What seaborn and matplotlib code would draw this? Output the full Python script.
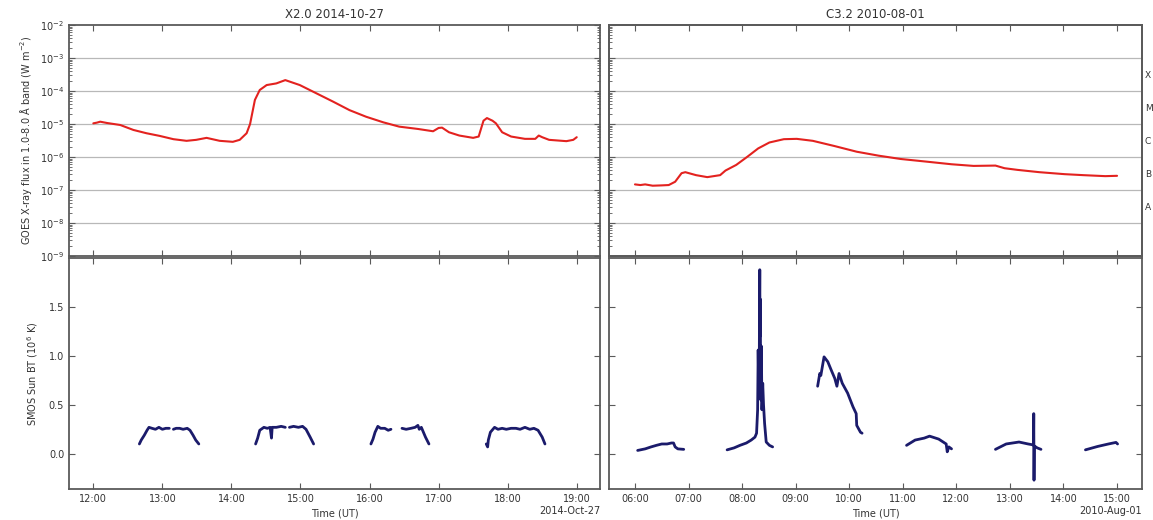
import numpy as np
import pandas as pd
import matplotlib
matplotlib.use("Agg")
import matplotlib.pyplot as plt
import seaborn as sns
from matplotlib.ticker import FixedLocator, FuncFormatter, LogLocator, NullLocator, NullFormatter

# ---------------- data ----------------
titles = ["X2.0 2014-10-27", "C3.2 2010-08-01"]
date_labels = ["2014-Oct-27", "2010-Aug-01"]
hour_ticks_left = list(range(12, 20))
hour_ticks_right = list(range(6, 16))
goes_classes = ["A", "B", "C", "M", "X"]
goes_class_exp = [-7.5, -6.5, -5.5, -4.5, -3.5]

# GOES 1-8 A flux, log10(W m^-2), event of 2014-10-27
goes_oct_t = [12.00, 12.05, 12.10, 12.20, 12.39, 12.58, 12.77, 12.96, 13.16, 13.35, 13.49, 13.64,
              13.83, 14.02, 14.12, 14.22, 14.27, 14.34, 14.41, 14.51, 14.65, 14.78, 14.99, 15.23,
              15.47, 15.71, 15.95, 16.20, 16.43, 16.70, 16.92, 17.00, 17.05, 17.15, 17.30, 17.50,
              17.58, 17.65, 17.70, 17.78, 17.83, 17.92, 18.05, 18.25, 18.40, 18.45, 18.50, 18.60,
              18.85, 18.95, 19.00]
goes_oct_log = [-4.98, -4.96, -4.93, -4.97, -5.03, -5.18, -5.28, -5.36, -5.46, -5.51, -5.48, -5.42,
                -5.51, -5.54, -5.48, -5.28, -5.00, -4.27, -3.97, -3.82, -3.77, -3.67, -3.82, -4.07,
                -4.32, -4.58, -4.78, -4.95, -5.08, -5.15, -5.22, -5.12, -5.11, -5.25, -5.35, -5.42,
                -5.38, -4.90, -4.82, -4.90, -4.98, -5.25, -5.38, -5.45, -5.45, -5.35, -5.40, -5.48,
                -5.52, -5.48, -5.40]

# GOES 1-8 A flux, log10(W m^-2), event of 2010-08-01
goes_aug_t = [6.00, 6.10, 6.19, 6.33, 6.50, 6.63, 6.75, 6.87, 6.94, 7.14, 7.35, 7.59, 7.69, 7.89,
              8.10, 8.30, 8.51, 8.78, 9.02, 9.32, 9.73, 10.14, 10.55, 10.96, 11.44, 11.91, 12.32,
              12.73, 12.90, 13.14, 13.55, 14.02, 14.37, 14.78, 15.00]
goes_aug_log = [-6.83, -6.85, -6.83, -6.87, -6.86, -6.85, -6.75, -6.49, -6.46, -6.55, -6.61, -6.55,
                -6.41, -6.24, -5.99, -5.74, -5.56, -5.46, -5.45, -5.51, -5.67, -5.84, -5.96, -6.06,
                -6.14, -6.22, -6.27, -6.26, -6.34, -6.39, -6.46, -6.52, -6.55, -6.58, -6.57]

# SMOS Sun brightness temperature (10^6 K), 2014-10-27, one list per visibility pass
smos_oct_t = [
    [12.667, 12.694, 12.739, 12.778, 12.806, 12.85, 12.90, 12.95, 13.00, 13.05, 13.10],
    [13.16, 13.20, 13.25, 13.30, 13.36, 13.40, 13.444, 13.483, 13.528],
    [14.35, 14.38, 14.41, 14.47, 14.52, 14.56, 14.58, 14.59, 14.65, 14.72, 14.78],
    [14.84, 14.90, 14.97, 15.03, 15.08, 15.14, 15.19],
    [16.02, 16.05, 16.08, 16.12, 16.16, 16.22, 16.27, 16.31],
    [16.47, 16.53, 16.60, 16.66, 16.70, 16.72, 16.75, 16.78, 16.81, 16.86],
    [17.69, 17.71, 17.72, 17.75, 17.81, 17.86, 17.92, 17.98, 18.05, 18.12, 18.18, 18.25, 18.32,
     18.38, 18.44, 18.50, 18.54],
]
smos_oct_v = [
    [0.10, 0.14, 0.19, 0.24, 0.27, 0.26, 0.25, 0.27, 0.25, 0.26, 0.26],
    [0.25, 0.26, 0.26, 0.25, 0.26, 0.24, 0.19, 0.14, 0.10],
    [0.10, 0.16, 0.24, 0.27, 0.26, 0.27, 0.16, 0.27, 0.27, 0.28, 0.27],
    [0.27, 0.28, 0.27, 0.28, 0.25, 0.17, 0.10],
    [0.10, 0.15, 0.22, 0.28, 0.26, 0.26, 0.24, 0.25],
    [0.26, 0.25, 0.26, 0.27, 0.29, 0.25, 0.27, 0.22, 0.17, 0.10],
    [0.10, 0.07, 0.14, 0.22, 0.27, 0.25, 0.26, 0.25, 0.26, 0.26, 0.25, 0.27, 0.25, 0.26, 0.24,
     0.17, 0.10],
]

# SMOS Sun brightness temperature (10^6 K), 2010-08-01
smos_aug_t = [
    [6.05, 6.19, 6.30, 6.40, 6.50, 6.60, 6.68, 6.72, 6.75, 6.80, 6.91],
    [7.72, 7.85, 7.96, 8.08, 8.17, 8.24, 8.27, 8.29, 8.30, 8.31, 8.32, 8.325, 8.33, 8.335, 8.34,
     8.345, 8.35, 8.36, 8.37, 8.385, 8.40, 8.42, 8.45, 8.51, 8.57],
    [9.41, 9.45, 9.47, 9.53, 9.60, 9.66, 9.73, 9.77, 9.81, 9.87, 9.97, 10.07, 10.13, 10.14,
     10.21, 10.24],
    [11.07, 11.23, 11.40, 11.50, 11.67, 11.81, 11.83, 11.86, 11.91],
    [12.73, 12.93, 13.17, 13.34, 13.44, 13.445, 13.45, 13.455, 13.51, 13.58],
    [14.41, 14.64, 14.84, 14.98, 15.01],
]
smos_aug_v = [
    [0.034, 0.05, 0.07, 0.086, 0.10, 0.10, 0.11, 0.11, 0.07, 0.05, 0.045],
    [0.04, 0.06, 0.086, 0.11, 0.14, 0.17, 0.21, 0.45, 1.06, 0.70, 0.82, 1.50, 1.88, 1.20, 1.58,
     0.80, 0.55, 1.10, 0.45, 0.72, 0.50, 0.31, 0.12, 0.086, 0.07],
    [0.69, 0.82, 0.80, 0.99, 0.94, 0.86, 0.77, 0.69, 0.82, 0.72, 0.62, 0.48, 0.41, 0.29, 0.22,
     0.21],
    [0.086, 0.14, 0.16, 0.18, 0.15, 0.10, 0.02, 0.07, 0.05],
    [0.045, 0.10, 0.12, 0.10, 0.09, 0.41, -0.27, 0.08, 0.06, 0.045],
    [0.04, 0.075, 0.10, 0.116, 0.10],
]

# ---------------- tables ----------------
def goes_frame(t, lg):
    return pd.DataFrame({"t": t, "flux": 10.0 ** np.asarray(lg)})

def smos_frame(ts, vs):
    rows = []
    for i, (t, v) in enumerate(zip(ts, vs)):
        for a, b in zip(t, v):
            rows.append((i, a, b))
    return pd.DataFrame(rows, columns=["seg", "t", "bt"])

df_goes = [goes_frame(goes_oct_t, goes_oct_log), goes_frame(goes_aug_t, goes_aug_log)]
df_smos = [smos_frame(smos_oct_t, smos_oct_v), smos_frame(smos_aug_t, smos_aug_v)]

# ---------------- style ----------------
sns.set_theme(style="white")
plt.rcParams.update({
    "font.family": ["DejaVu Sans"],
    "font.size": 7,
    "axes.edgecolor": "#5a5a5a",
    "axes.linewidth": 1.3,
    "xtick.direction": "in",
    "ytick.direction": "in",
    "xtick.top": True,
    "xtick.bottom": True,
    "ytick.left": True,
    "ytick.right": True,
    "xtick.color": "#5a5a5a",
    "ytick.color": "#5a5a5a",
    "xtick.labelcolor": "#333333",
    "ytick.labelcolor": "#333333",
    "xtick.labelsize": 7,
    "ytick.labelsize": 7,
    "xtick.major.size": 4,
    "ytick.major.size": 4,
    "xtick.minor.size": 2,
    "ytick.minor.size": 2,
    "xtick.major.width": 0.8,
    "ytick.major.width": 0.8,
    "ytick.minor.width": 0.6,
    "axes.labelcolor": "#333333",
    "axes.labelsize": 7,
})

W, H = 1153, 520
fig = plt.figure(figsize=(W / 100, H / 100), dpi=100)

def rect(x0, y0, x1, y1):
    return [x0 / W, 1 - y1 / H, (x1 - x0) / W, (y1 - y0) / H]

cols = [(69, 600), (609, 1142)]
xlims = [(11.648, 19.337), (5.515, 15.466)]
hticks = [hour_ticks_left, hour_ticks_right]
red = "#e3221f"
navy = "#1b1b6b"
hfmt = FuncFormatter(lambda v, _: f"{int(round(v)):02d}:00")

for j, (x0, x1) in enumerate(cols):
    ax_t = fig.add_axes(rect(x0, 25, x1, 256))
    ax_b = fig.add_axes(rect(x0, 258, x1, 489))

    # ---- GOES panel ----
    sns.lineplot(data=df_goes[j], x="t", y="flux", ax=ax_t, color=red, lw=1.5, legend=False)
    ax_t.set_yscale("log")
    ax_t.set_ylim(1e-9, 1e-2)
    ax_t.set_xlim(*xlims[j])
    ax_t.yaxis.set_major_locator(LogLocator(base=10, numticks=20))
    ax_t.yaxis.set_minor_locator(LogLocator(base=10, subs=np.arange(2, 10), numticks=20))
    ax_t.yaxis.set_minor_formatter(NullFormatter())
    for e in range(-8, -2):
        ax_t.axhline(10.0 ** e, color="#b8b8b8", lw=0.9, zorder=0)
    ax_t.xaxis.set_major_locator(FixedLocator(hticks[j]))
    ax_t.tick_params(axis="x", labelbottom=False)
    ax_t.set_xlabel("")
    ax_t.set_title(titles[j], fontsize=8.5, color="#333333", pad=5)
    if j == 0:
        ax_t.set_ylabel("GOES X-ray flux in 1.0-8.0 Å band (W m$^{-2}$)", labelpad=4)
    else:
        ax_t.set_ylabel("")
        ax_t.tick_params(axis="y", labelleft=False)
        ax2 = ax_t.twinx()
        ax2.set_yscale("log")
        ax2.set_ylim(1e-9, 1e-2)
        ax2.yaxis.set_major_locator(FixedLocator([10.0 ** e for e in goes_class_exp]))
        ax2.set_yticklabels(goes_classes)
        ax2.yaxis.set_minor_locator(NullLocator())
        ax2.tick_params(axis="y", length=0, pad=2, labelsize=6.5)
        ax2.tick_params(axis="x", which="both", top=False, bottom=False)
        ax2.grid(False)

    # ---- SMOS panel ----
    sns.lineplot(data=df_smos[j], x="t", y="bt", units="seg", estimator=None, ax=ax_b,
                 color=navy, lw=2.0, legend=False)
    ax_b.set_xlim(*xlims[j])
    ax_b.set_ylim(-0.36, 2.0)
    ax_b.yaxis.set_major_locator(FixedLocator([0.0, 0.5, 1.0, 1.5]))
    ax_b.xaxis.set_major_locator(FixedLocator(hticks[j]))
    ax_b.xaxis.set_major_formatter(hfmt)
    ax_b.set_xlabel("Time (UT)", labelpad=3)
    if j == 0:
        ax_b.set_ylabel("SMOS Sun BT (10$^6$ K)", labelpad=6)
    else:
        ax_b.set_ylabel("")
        ax_b.tick_params(axis="y", labelleft=False)
    ax_b.text(1.0, -0.097, date_labels[j], transform=ax_b.transAxes, ha="right", va="center",
              fontsize=7, color="#333333")
    for a in (ax_t, ax_b):
        a.grid(False)
        for s in a.spines.values():
            s.set_visible(True)

fig.savefig("out.png", dpi=100)
